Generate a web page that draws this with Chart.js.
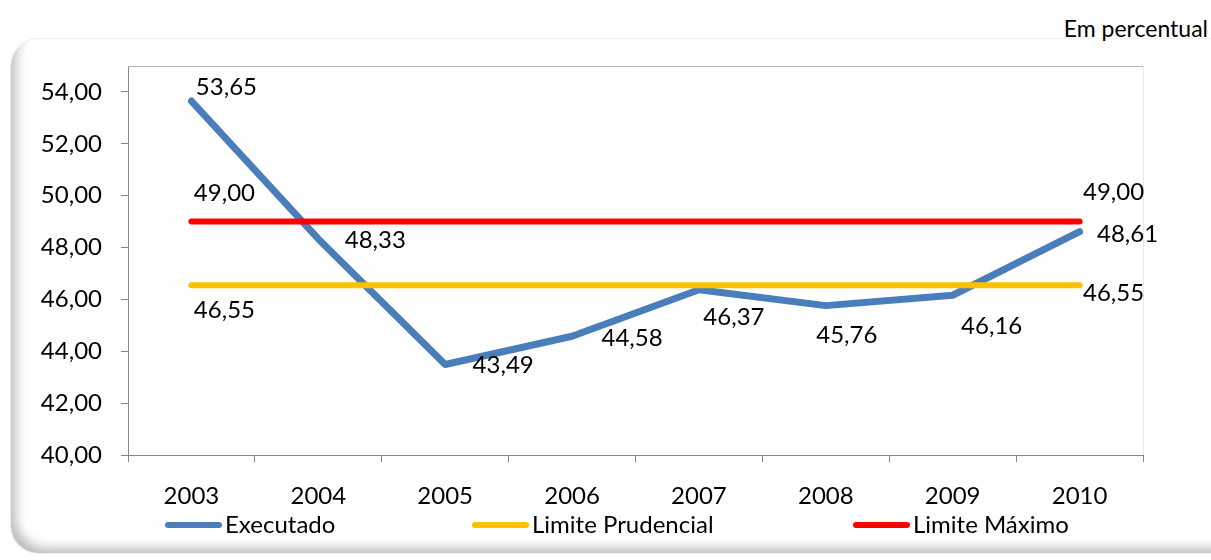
<!DOCTYPE html>
<html>
<head>
<meta charset="utf-8">
<script src="https://cdn.jsdelivr.net/npm/chart.js@4.4.1/dist/chart.umd.min.js"></script>
<style>
  body { margin: 0; background: #fff; font-family: Lato, sans-serif; }
  #wrap { position: relative; width: 1211px; height: 560px; overflow: hidden; }
  #frame {
    position: absolute; left: 10px; top: 38px; width: 1230px; height: 516px;
    border-radius: 28px; border: 1px solid #efefef; box-sizing: border-box;
    box-shadow: inset 9px -9px 11px -4px rgba(0, 0, 0, 0.26);
  }
  #unit { position: absolute; right: 3px; top: 14px; font: 23px Lato, sans-serif; color: #000; }
  canvas { position: absolute; left: 0; top: 0; }
</style>
</head>
<body>
<div id="wrap">
  <div id="frame"></div>
  <div id="unit">Em percentual</div>
  <canvas id="chart" width="1211" height="560"></canvas>
</div>
<script>
const years = ['2003', '2004', '2005', '2006', '2007', '2008', '2009', '2010']
const executado = [53.65, 48.33, 43.49, 44.58, 46.37, 45.76, 46.16, 48.61]
const limitePrudencial = [46.55, 46.55, 46.55, 46.55, 46.55, 46.55, 46.55, 46.55]
const limiteMaximo = [49.00, 49.00, 49.00, 49.00, 49.00, 49.00, 49.00, 49.00]
const yTicks = [40, 42, 44, 46, 48, 50, 52, 54]

const FONT = 'Lato, sans-serif'

// label nudges in px, relative to each point (Excel placed them by hand)
const labelOffsets = [
  [[35, -14], [57, 1], [58, 1], [60, 2], [35, 27], [21, 30], [39, 31], [48, 3]],
  [[33, 25], null, null, null, null, null, null, [34, 8]],
  [[33, -28], null, null, null, null, null, null, [34, -29]]
]
const legendX = [165, 472, 853]

const fmt = v => v.toFixed(2).replace('.', ',')

const plotFrame = {
  id: 'plotFrame',
  beforeDatasetsDraw(chart) {
    const { ctx, chartArea: a } = chart
    ctx.save()
    ctx.lineWidth = 1
    ctx.strokeStyle = '#b4b4b4'
    ctx.beginPath()
    ctx.moveTo(a.left, a.top + 0.5)
    ctx.lineTo(a.right, a.top + 0.5)
    ctx.stroke()
    ctx.strokeStyle = '#e8e8e8'
    ctx.beginPath()
    ctx.moveTo(a.right + 0.5, a.top)
    ctx.lineTo(a.right + 0.5, a.bottom)
    ctx.stroke()
    ctx.restore()
  }
}

const valueLabels = {
  id: 'valueLabels',
  afterDatasetsDraw(chart) {
    const { ctx } = chart
    ctx.save()
    ctx.font = '24px ' + FONT
    ctx.fillStyle = '#000'
    ctx.textAlign = 'center'
    ctx.textBaseline = 'middle'
    chart.data.datasets.forEach((ds, i) => {
      const meta = chart.getDatasetMeta(i)
      meta.data.forEach((pt, j) => {
        const off = labelOffsets[i][j]
        if (!off) return
        ctx.fillText(fmt(ds.data[j]), pt.x + off[0], pt.y + off[1])
      })
    })
    ctx.restore()
  }
}

const lineLegend = {
  id: 'lineLegend',
  afterDraw(chart) {
    const { ctx } = chart
    const y = 525
    ctx.save()
    ctx.font = '24px ' + FONT
    ctx.fillStyle = '#000'
    ctx.textBaseline = 'middle'
    chart.data.datasets.forEach((ds, i) => {
      const x = legendX[i]
      ctx.strokeStyle = ds.borderColor
      ctx.lineWidth = 6
      ctx.lineCap = 'round'
      ctx.beginPath()
      ctx.moveTo(x + 3, y)
      ctx.lineTo(x + 54, y)
      ctx.stroke()
      ctx.fillText(ds.label, x + 60, y)
    })
    ctx.restore()
  }
}

new Chart(document.getElementById('chart'), {
  type: 'line',
  data: {
    labels: years,
    datasets: [
      {
        label: 'Executado',
        data: executado,
        borderColor: '#4A7EBB',
        borderWidth: 7,
        borderCapStyle: 'round',
        borderJoinStyle: 'round',
        pointRadius: 0,
        order: 3
      },
      {
        label: 'Limite Prudencial',
        data: limitePrudencial,
        borderColor: '#FFC000',
        borderWidth: 6,
        borderCapStyle: 'round',
        pointRadius: 0,
        order: 2
      },
      {
        label: 'Limite Máximo',
        data: limiteMaximo,
        borderColor: '#FF0000',
        borderWidth: 6,
        borderCapStyle: 'round',
        pointRadius: 0,
        order: 1
      }
    ]
  },
  options: {
    responsive: false,
    animation: false,
    layout: { padding: { left: 0, right: 68, top: 66, bottom: 0 } },
    plugins: {
      legend: { display: false },
      tooltip: { enabled: false }
    },
    scales: {
      x: {
        type: 'category',
        offset: true,
        grid: {
          offset: true,
          drawOnChartArea: false,
          color: '#868686',
          tickLength: 7
        },
        border: { color: '#868686', width: 1 },
        ticks: {
          color: '#000',
          padding: 20,
          maxRotation: 0,
          font: { family: FONT, size: 24 }
        },
        afterFit(scale) { scale.height = 105 }
      },
      y: {
        min: 40,
        max: 55,
        afterBuildTicks(scale) {
          scale.ticks = yTicks.map(v => ({ value: v }))
        },
        grid: {
          drawOnChartArea: false,
          color: '#868686',
          tickLength: 7
        },
        border: { color: '#868686', width: 1 },
        ticks: {
          color: '#000',
          padding: 19,
          font: { family: FONT, size: 24 },
          callback: v => fmt(v)
        },
        afterFit(scale) { scale.width = 128 }
      }
    }
  },
  plugins: [plotFrame, valueLabels, lineLegend]
})
</script>
</body>
</html>
